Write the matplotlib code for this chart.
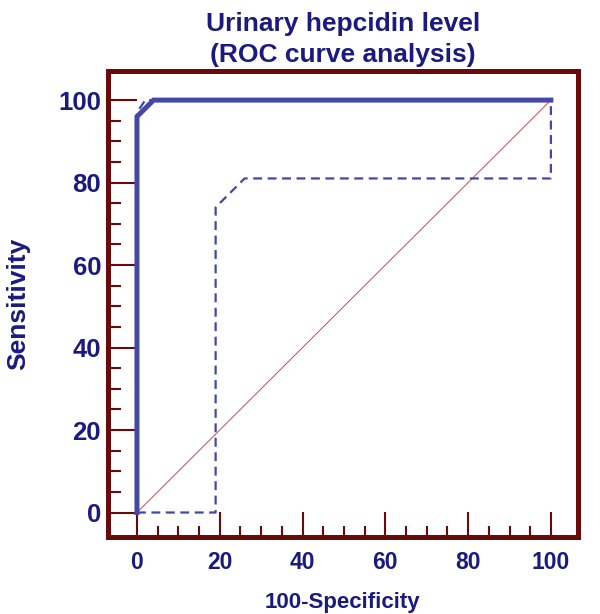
import matplotlib.pyplot as plt
from matplotlib.ticker import FixedLocator

# ROC curve and its confidence bounds (100-Specificity, Sensitivity)
roc_x = [0, 0, 4, 100]
roc_y = [0, 96, 100, 100]
upper_x = [0, 0, 2, 100]
upper_y = [0, 97, 100, 100]
lower_x = [0, 19, 19, 26, 100, 100]
lower_y = [0, 0, 74, 81, 81, 100]
diag_x = [0, 100]
diag_y = [0, 100]
ticks = [0, 20, 40, 60, 80, 100]
minor = [5, 10, 15, 25, 30, 35, 45, 50, 55, 65, 70, 75, 85, 90, 95]

navy = '#1a1a80'
maroon = '#6b0a0a'
blue = '#4347a6'

plt.rcParams['font.family'] = ['Liberation Sans', 'DejaVu Sans']
plt.rcParams['font.weight'] = 'bold'

fig = plt.figure(figsize=(6, 6.14), dpi=100)
ax = fig.add_axes([0.18, 0.125, 0.783, 0.759])

ax.plot(diag_x, diag_y, color='#c05050', lw=0.7)
ax.plot(upper_x, upper_y, color=blue, lw=1.6, ls=(0, (4, 2.5)))
ax.plot(lower_x, lower_y, color=blue, lw=1.6, ls=(0, (4, 2.5)))
ax.plot(roc_x, roc_y, color=blue, lw=3.6, solid_joinstyle='miter')

ax.set_xlim(-7, 106.5)
ax.set_ylim(-6, 107)
ax.set_xticks(ticks)
ax.set_yticks(ticks)
ax.xaxis.set_minor_locator(FixedLocator(minor))
ax.yaxis.set_minor_locator(FixedLocator(minor))

for s in ax.spines.values():
    s.set_color(maroon)
    s.set_linewidth(3.6)

ax.tick_params(axis='both', which='both', direction='in', color=maroon,
               width=1.5, labelcolor=navy)
ax.tick_params(axis='x', which='major', length=18, pad=10, labelsize=16.5)
ax.tick_params(axis='x', which='minor', length=8)
ax.tick_params(axis='y', which='major', length=21, pad=5, labelsize=18.5)
ax.tick_params(axis='y', which='minor', length=9)
for lab in ax.get_xticklabels() + ax.get_yticklabels():
    lab.set_fontweight('bold')

ax.set_xlabel('100-Specificity', color=navy, fontsize=16, fontweight='bold', labelpad=13)
ax.set_ylabel('Sensitivity', color=navy, fontsize=19, fontweight='bold', labelpad=20)
ax.set_title('Urinary hepcidin level\n(ROC curve analysis)', color=navy,
             fontsize=19, fontweight='bold', pad=7, linespacing=1.35)

fig.savefig('out.png', dpi=100)
